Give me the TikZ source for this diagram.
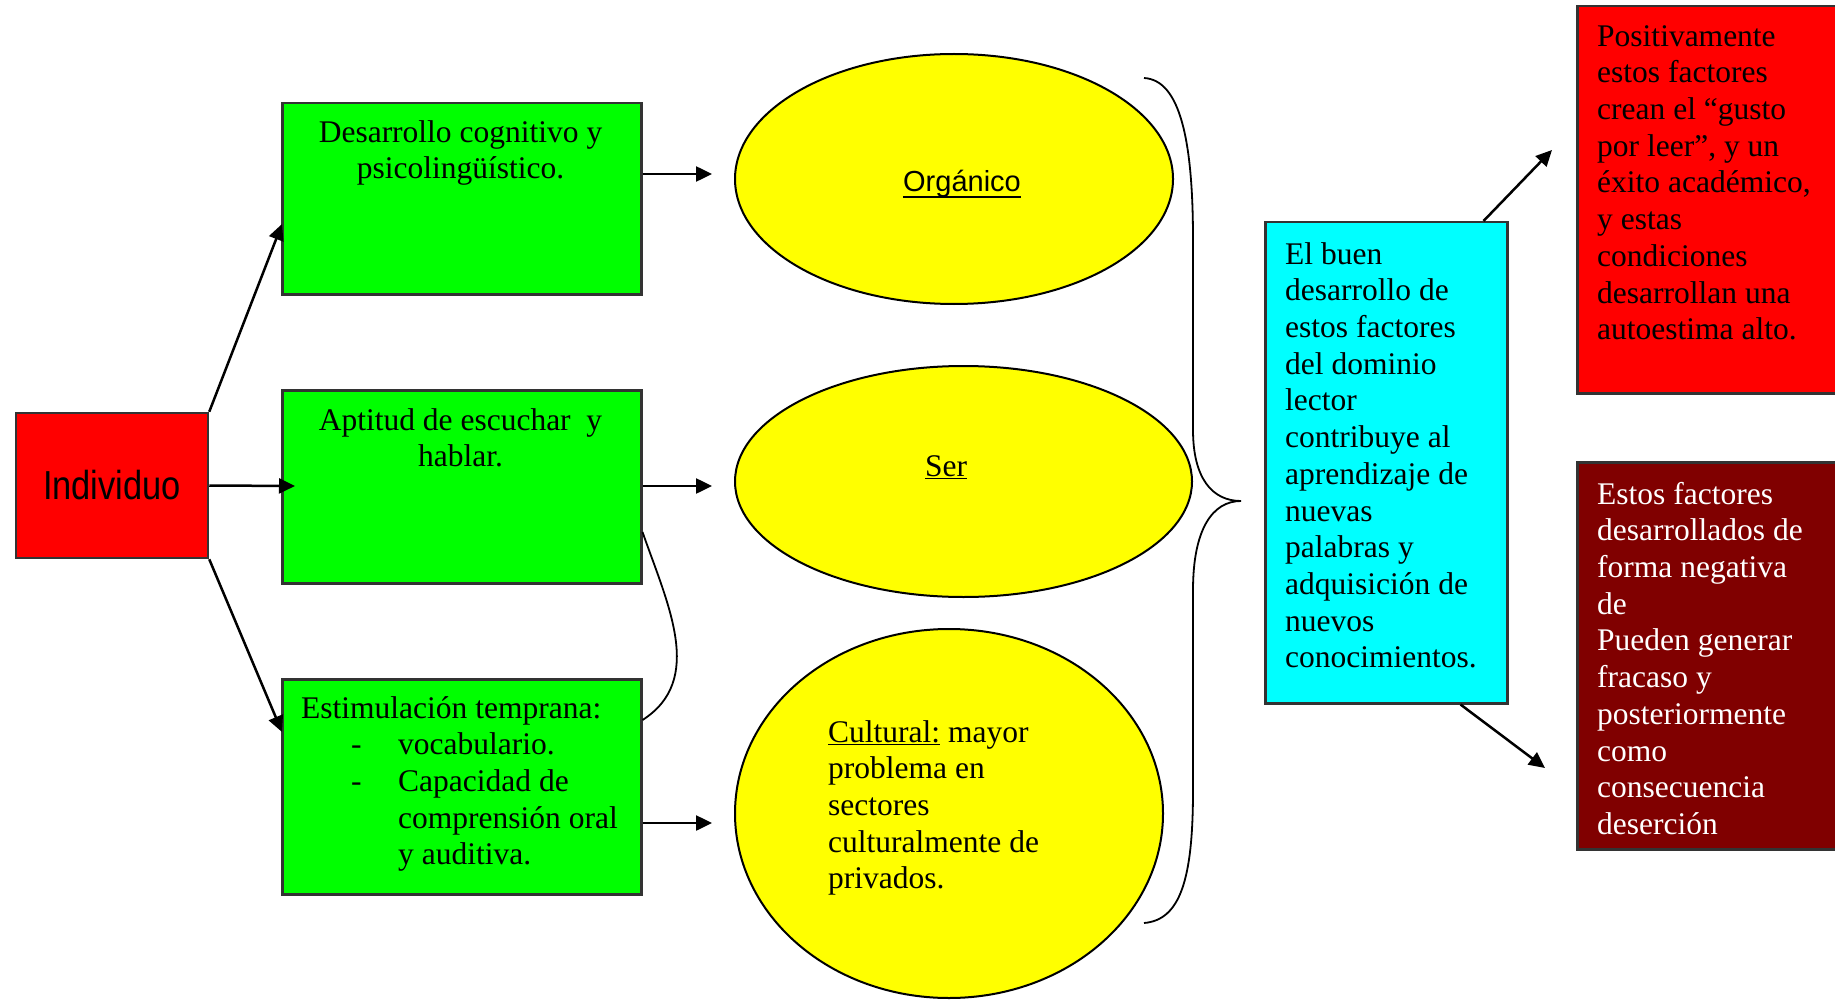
\documentclass[tikz,border=0pt]{standalone}
\usepackage{fontspec}
\setmainfont{Liberation Serif}
\setsansfont{Liberation Sans}
\usetikzlibrary{arrows.meta,shapes.geometric}
\definecolor{cgreen}{HTML}{00FF00}
\definecolor{cyellow}{HTML}{FFFF00}
\definecolor{ccyan}{HTML}{00FFFF}
\definecolor{cred}{HTML}{FF0000}
\definecolor{cdark}{HTML}{800000}
\newcommand{\bodyfont}{\fontsize{31.5}{36.7}\selectfont}
\begin{document}
\begin{tikzpicture}[x=1pt,y=-1pt,
  boxstyle/.style={draw=black!80,line width=2.5pt,rectangle,inner sep=0pt,anchor=north west},
  ellstyle/.style={draw=black,line width=2pt,ellipse,fill=cyellow,inner sep=0pt},
  txt/.style={inner sep=0pt,font=\bodyfont},
  arr/.style={line width=2.5pt,-{Triangle[length=16pt,width=15pt]}},
  thinline/.style={line width=1.8pt}]
\useasboundingbox (0,0) rectangle (1835,1000);

% boxes
\node[boxstyle,fill=cred,minimum width=192,minimum height=145,anchor=center,
  font=\sffamily\fontsize{40.5}{48}\selectfont] (ind) at (112,485.5) {\scalebox{0.85}[1]{Individuo}};
\node[boxstyle,fill=cgreen,minimum width=359,minimum height=191] (g1) at (281,102) {};
\node[boxstyle,fill=cgreen,minimum width=359,minimum height=193] (g2) at (281,389) {};
\node[boxstyle,fill=cgreen,minimum width=359,minimum height=215] (g3) at (281,678) {};
\node[boxstyle,fill=ccyan,minimum width=242,minimum height=481] (c) at (1264,221) {};
\node[boxstyle,fill=cred,minimum width=262,minimum height=387] (r1) at (1576,5) {};
\node[boxstyle,fill=cdark,minimum width=262,minimum height=387] (r2) at (1576,461) {};

% ellipses
\node[ellstyle,minimum width=438,minimum height=250] (e1) at (954,179) {};
\node[ellstyle,minimum width=457,minimum height=231] (e2) at (963.5,481.5) {};
\node[ellstyle,minimum width=428,minimum height=369] (e3) at (949,813.5) {};

% texts
\node[txt,anchor=north,align=center] (g1t) at (460.5,116.3)
  {\strut Desarrollo cognitivo y\\psicolingüístico.};
\node[txt,anchor=north,align=center] (g2t) at (460.5,404.3)
  {\strut Aptitud de escuchar\ \ y\\hablar.};
\node[txt,anchor=north west,align=left] (g3t) at (301,692.3)
  {\strut Estimulación temprana:\\
   \hspace*{50pt}\makebox[47pt][l]{-}vocabulario.\\
   \hspace*{50pt}\makebox[47pt][l]{-}Capacidad de\\
   \hspace*{97pt}comprensión oral\\
   \hspace*{97pt}y auditiva.};
\node[txt,anchor=base,font=\sffamily\fontsize{29}{34}\selectfont] (e1t) at (962,192) {Orgánico};
\draw[line width=2pt] ([yshift=-5pt]e1t.base west) -- ([yshift=-5pt]e1t.base east);
\node[txt,anchor=base] (e2t) at (946,476) {\underline{Ser}};
\node[txt,anchor=north west,align=left] (e3t) at (828,716.3)
  {\strut\underline{Cultural:} mayor\\problema en\\sectores\\culturalmente de\\privados.};
\node[txt,anchor=north west,align=left] (ct) at (1285,238.3)
  {\strut El buen\\desarrollo de\\estos factores\\del dominio\\lector\\contribuye al\\aprendizaje de\\nuevas\\palabras y\\adquisición de\\nuevos\\conocimientos.};
\node[txt,anchor=north west,align=left] (r1t) at (1597,20.3)
  {\strut Positivamente\\estos factores\\crean el “gusto\\por leer”, y un\\éxito académico,\\y estas\\condiciones\\desarrollan una\\autoestima alto.};
\node[txt,anchor=north west,align=left,text=white] (r2t) at (1597,478.3)
  {\strut Estos factores\\desarrollados de\\forma negativa\\de\\Pueden generar\\fracaso y\\posteriormente\\como\\consecuencia\\deserción};

% connector end points
\coordinate (i1) at (282,224);
\coordinate (i2) at (295,486);
\coordinate (i3) at (282,732);
\coordinate (a1) at (712,174);
\coordinate (a2) at (712,486);
\coordinate (a3) at (712,823);
\coordinate (cu) at (1552,150);
\coordinate (cd) at (1545,768);
\coordinate (s1) at (640,532);
\coordinate (s2) at (640,720);
\coordinate (bt) at (1144,78);
\coordinate (btip) at (1241,501);
\coordinate (bb) at (1144,923);

% arrows
\draw[arr] (ind.north east) -- (i1);
\draw[arr] (ind.east) -- (i2);
\draw[arr] (ind.south east) -- (i3);
\draw[arr] (g1.east |- a1) -- (a1);
\draw[arr] (g2.east |- a2) -- (a2);
\draw[arr] (g3.east |- a3) -- (a3);
\draw[arr] ([xshift=-25pt]c.north east) -- (cu);
\draw[arr] ([xshift=-48pt]c.south east) -- (cd);

% S curve between boxes
\draw[thinline] (g2.east |- s1) .. controls (668,605) and (705,680) .. (g3.east |- s2);

% brace
\draw[thinline] (bt) .. controls (1180,80) and (1193,140) .. (1193,240)
  -- (1193,430) .. controls (1193,478) and (1212,501) .. (btip)
  .. controls (1212,501) and (1193,530) .. (1193,590)
  -- (1193,790) .. controls (1193,880) and (1180,920) .. (bb);
\end{tikzpicture}
\end{document}
